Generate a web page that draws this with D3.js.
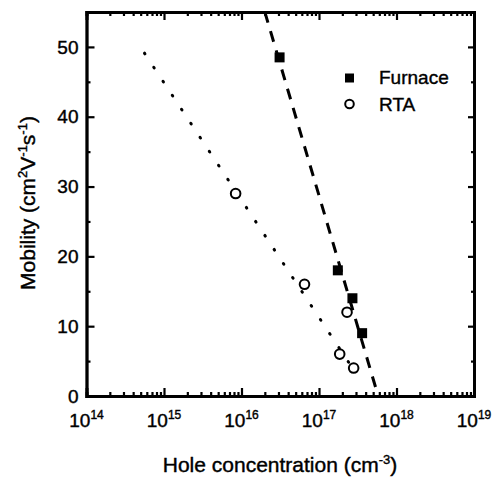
<!DOCTYPE html>
<html lang="en">
<head>
<meta charset="utf-8">
<title>Mobility vs hole concentration</title>
<script src="https://cdn.jsdelivr.net/npm/d3@7"></script>
<style>
  body { margin: 0; background: #fff; }
  text { font-family: "Liberation Sans", Arial, sans-serif; fill: #000; stroke: #000; stroke-width: 0.4px; }
</style>
</head>
<body>
<script>
// data
var furnaceConc = [3.1e16, 1.75e17, 2.7e17, 3.6e17];
var furnaceMob  = [48.5, 18, 14, 9];
var rtaConc = [8.4e15, 6.5e16, 2.3e17, 1.85e17, 2.8e17];
var rtaMob  = [29, 16, 12, 6, 4];
// fit lines (end points)
var dashedFitConc = [2.0e16, 5.8e17];
var dashedFitMob  = [55, 0];
var dottedFitConc = [5.6e14, 3.1e17];
var dottedFitMob  = [49.1, 3];

var xDecades = [1e14, 1e15, 1e16, 1e17, 1e18, 1e19];
var yTicks = [0, 10, 20, 30, 40, 50];
var yMinor = [5, 15, 25, 35, 45];

var w = 493, h = 477;
var mLeft = 86.5, mRight = 474, mTop = 12, mBottom = 396;

var svg = d3.select("body").append("svg")
    .attr("width", w)
    .attr("height", h);

var x = d3.scaleLog().domain([1e14, 1e19]).range([mLeft, mRight]);
var y = d3.scaleLinear().domain([0, 55]).range([mBottom, mTop]);

// minor x ticks 2..9 in each decade
var xMinor = [];
for (var d = 0; d < xDecades.length - 1; d++) {
    for (var k = 2; k <= 9; k++) xMinor.push(xDecades[d] * k);
}

// fit lines
var line = d3.line()
    .x(function(d) { return x(d[0]); })
    .y(function(d) { return y(d[1]); });

svg.append("path")
    .datum(d3.zip(dashedFitConc, dashedFitMob))
    .attr("d", line)
    .attr("fill", "none")
    .attr("stroke", "#000")
    .attr("stroke-width", 3)
    .attr("stroke-dasharray", "11,9");

svg.append("path")
    .datum(d3.zip(dottedFitConc, dottedFitMob))
    .attr("d", line)
    .attr("fill", "none")
    .attr("stroke", "#000")
    .attr("stroke-width", 3)
    .attr("stroke-linecap", "round")
    .attr("stroke-dasharray", "0.8,16");

// bottom axis
svg.append("g").attr("transform", "translate(0," + mBottom + ")")
    .call(d3.axisBottom(x).tickValues(xDecades).tickSize(-8).tickFormat(""));
svg.append("g").attr("transform", "translate(0," + mBottom + ")")
    .call(d3.axisBottom(x).tickValues(xMinor).tickSize(-4).tickFormat(""));
// top axis
svg.append("g").attr("transform", "translate(0," + mTop + ")")
    .call(d3.axisTop(x).tickValues(xDecades).tickSize(-8).tickFormat(""));
svg.append("g").attr("transform", "translate(0," + mTop + ")")
    .call(d3.axisTop(x).tickValues(xMinor).tickSize(-4).tickFormat(""));
// left axis
var yAxisL = svg.append("g").attr("transform", "translate(" + mLeft + ",0)")
    .call(d3.axisLeft(y).tickValues(yTicks).tickSize(-8).tickFormat(d3.format("d")));
svg.append("g").attr("transform", "translate(" + mLeft + ",0)")
    .call(d3.axisLeft(y).tickValues(yMinor).tickSize(-4).tickFormat(""));
// right axis
svg.append("g").attr("transform", "translate(" + mRight + ",0)")
    .call(d3.axisRight(y).tickValues(yTicks).tickSize(-6).tickFormat(""));
svg.append("g").attr("transform", "translate(" + mRight + ",0)")
    .call(d3.axisRight(y).tickValues(yMinor).tickSize(-3).tickFormat(""));

svg.selectAll(".domain").attr("stroke", "#000").attr("stroke-width", 2.8);
svg.selectAll(".tick line").attr("stroke", "#000").attr("stroke-width", 2.2);

yAxisL.selectAll(".tick text")
    .attr("x", -8)
    .attr("fill", "#000")
    .style("font-size", "19px")
    .style("font-family", "'Liberation Sans', Arial, sans-serif");

// x tick labels: 10 with superscript exponent
svg.append("g").selectAll("text.xlab")
    .data(xDecades)
    .enter()
    .append("text")
    .attr("class", "xlab")
    .attr("x", function(d) { return x(d); })
    .attr("y", 427)
    .attr("text-anchor", "middle")
    .style("font-size", "19px")
    .each(function(d) {
        var t = d3.select(this);
        t.append("tspan").text("10");
        t.append("tspan").attr("dy", -8).style("font-size", "12px")
            .text(Math.round(Math.log10(d)));
    });

// points
var sq = 10;
svg.append("g").selectAll("rect")
    .data(d3.zip(furnaceConc, furnaceMob))
    .enter()
    .append("rect")
    .attr("x", function(d) { return x(d[0]) - sq / 2; })
    .attr("y", function(d) { return y(d[1]) - sq / 2; })
    .attr("width", sq)
    .attr("height", sq)
    .attr("fill", "#000");

svg.append("g").selectAll("circle")
    .data(d3.zip(rtaConc, rtaMob))
    .enter()
    .append("circle")
    .attr("cx", function(d) { return x(d[0]); })
    .attr("cy", function(d) { return y(d[1]); })
    .attr("r", 4.8)
    .attr("fill", "#fff")
    .attr("stroke", "#000")
    .attr("stroke-width", 2);

// legend
var lg = svg.append("g");
lg.append("rect").attr("x", 345).attr("y", 73.5).attr("width", 9).attr("height", 9).attr("fill", "#000");
lg.append("circle").attr("cx", 349.5).attr("cy", 104).attr("r", 4.3)
    .attr("fill", "#fff").attr("stroke", "#000").attr("stroke-width", 2);
lg.append("text").attr("x", 379).attr("y", 84).style("font-size", "19px").text("Furnace");
lg.append("text").attr("x", 379).attr("y", 111).style("font-size", "19px").text("RTA");

// axis titles
var xt = svg.append("text")
    .attr("x", 280)
    .attr("y", 472)
    .attr("text-anchor", "middle")
    .style("font-size", "21px");
xt.append("tspan").text("Hole concentration (cm");
xt.append("tspan").attr("dy", -8).style("font-size", "13px").text("-3");
xt.append("tspan").attr("dy", 8).text(")");

var yt = svg.append("text")
    .attr("transform", "translate(35,203) rotate(-90)")
    .attr("text-anchor", "middle")
    .style("font-size", "21px");
yt.append("tspan").text("Mobility (cm");
yt.append("tspan").attr("dy", -8).style("font-size", "13px").text("2");
yt.append("tspan").attr("dy", 8).text("V");
yt.append("tspan").attr("dy", -8).style("font-size", "13px").text("-1");
yt.append("tspan").attr("dy", 8).text("s");
yt.append("tspan").attr("dy", -8).style("font-size", "13px").text("-1");
yt.append("tspan").attr("dy", 8).text(")");
</script>
</body>
</html>
